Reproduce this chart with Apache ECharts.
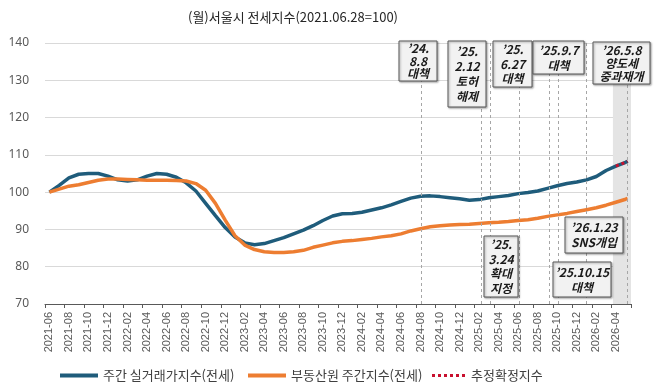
<!DOCTYPE html>
<html lang="ko">
<head>
  <meta charset="UTF-8">
  <script src="https://cdn.jsdelivr.net/npm/echarts@6/dist/echarts.min.js"></script>
  <title>서울시 전세지수</title>
  <style>
    body { margin: 0; background: #fff; }
  </style>
</head>
<body>
  <div id="main" style="width: 672px;height:389px;"></div>
  <script type="text/javascript">
    // x 값: 2021-06 눈금에서부터의 개월 위치
    var monthPos = [0,1,2,3,4,5,6,7,8,9,10,11,12,13,14,15,16,17,18,19,20,21,22,23,24,25,26,27,28,29,
      30,31,32,33,34,35,36,37,38,39,40,41,42,43,44,45,46,47,48,49,50,51,52,53,54,55,56,57,58,59,59.2];

    // 주간 실거래가지수(전세)
    var realIdx = [100,101.8,103.8,104.8,105.0,105.0,104.3,103.3,103.0,103.3,104.3,105.0,104.8,104.0,102.5,
      100.3,97.0,93.7,90.5,88.0,86.4,85.9,86.2,87.0,87.8,88.8,89.8,91.0,92.4,93.6,
      94.2,94.3,94.6,95.2,95.8,96.6,97.5,98.4,98.9,99.0,98.8,98.5,98.2,97.8,98.0,
      98.5,98.8,99.1,99.6,99.9,100.3,101.0,101.7,102.3,102.7,103.3,104.2,105.8,107.0,108.0,108.3];

    // 부동산원 주간지수(전세)
    var rebIdx = [100,100.8,101.6,102.0,102.6,103.2,103.5,103.5,103.4,103.3,103.2,103.2,103.2,103.1,103.0,
      102.3,100.5,97.0,92.5,88.3,85.8,84.6,84.0,83.8,83.8,84.0,84.4,85.2,85.8,86.4,
      86.8,87.0,87.3,87.6,88.0,88.3,88.8,89.6,90.2,90.7,91.0,91.2,91.3,91.4,91.6,
      91.8,91.9,92.1,92.4,92.6,93.0,93.5,93.9,94.3,94.8,95.3,95.8,96.5,97.3,98.1,98.3];

    // 추정확정지수 구간 (실거래가지수 끝부분)
    var estStart = 58;

    var tickLabels = ['2021-06','2021-08','2021-10','2021-12','2022-02','2022-04','2022-06','2022-08',
      '2022-10','2022-12','2023-02','2023-04','2023-06','2023-08','2023-10','2023-12','2024-02','2024-04',
      '2024-06','2024-08','2024-10','2024-12','2025-02','2025-04','2025-06','2025-08','2025-10','2025-12',
      '2026-02','2026-04'];

    // 정책 이벤트 (세로 점선 위치)
    var eventNames = ["'24.8.8", "'25.2.12", "'25.3.24", "'25.6.27", "'25.9.7", "'25.10.15", "'26.1.23", "'26.5.8"];
    var eventPos = [38.11, 44.18, 45.10, 48.10, 51.14, 52.13, 54.99, 59.15];
    var shadeRange = [57.7, 59.55];

    var seriesNames = ['주간 실거래가지수(전세)', '부동산원 주간지수(전세)', '추정확정지수'];

    var myChart = echarts.init(document.getElementById('main'));

    function pairs(xs, ys) {
      return ys.map(function (y, i) { return [xs[i], y]; });
    }

    var estData = pairs(monthPos, realIdx).filter(function (p) { return p[0] >= estStart; });

    var tickVals = [];
    var labelVals = [];
    for (var k = 0; k < tickLabels.length; k++) {
      labelVals.push(k * 2);
      tickVals.push(k * 2 - 0.45);
    }
    tickVals.push(59.55);

    var boxStyle = { fill: '#F2F2F2', stroke: '#595959', lineWidth: 1, shadowBlur: 2, shadowColor: 'rgba(0,0,0,0.35)', shadowOffsetX: 1, shadowOffsetY: 1 };
    var boxFont = 'italic bold 12px "Noto Sans CJK KR", sans-serif';

    // 주석 박스 [x, y, w, h, text]
    var boxes = [
      [399, 41, 38, 40, "’24.\n8.8\n대책"],
      [448, 41, 38, 66, "’25.\n2.12\n토허\n해제"],
      [493, 41, 39, 46, "’25.\n6.27\n대책"],
      [533, 41, 51, 33, "’25.9.7\n대책"],
      [593, 42, 57, 42, "’26.5.8\n양도세\n중과재개"],
      [484, 236, 34, 61, "’25.\n3.24\n확대\n지정"],
      [565, 217, 58, 36, "’26.1.23\nSNS개입"],
      [553, 262, 58, 35, "’25.10.15\n대책"]
    ];

    var graphics = [];
    boxes.forEach(function (b) {
      var lines = b[4].split('\n').length;
      var lh = Math.min(15, (b[3] - 3) / lines);
      graphics.push({ type: 'rect', x: b[0], y: b[1], z: 100, zlevel: 1,
        shape: { x: 0, y: 0, width: b[2], height: b[3] }, style: boxStyle });
      graphics.push({ type: 'text', x: b[0] + b[2] / 2, y: b[1] + b[3] / 2, z: 101, zlevel: 1,
        style: { text: b[4], font: boxFont, fill: '#1a1a1a', align: 'center', verticalAlign: 'middle', lineHeight: lh } });
    });

    var legendFont = { fontSize: 13, color: '#404040', fontFamily: '"Noto Sans CJK KR", sans-serif' };
    var legendLeft = [55, 243, 427];
    var legendIcons = ['rect', 'rect',
      'path://M0,0h3v3h-3z M6,0h3v3h-3z M12,0h3v3h-3z M18,0h3v3h-3z M24,0h3v3h-3z M30,0h3v3h-3z'];

    var option = {
      animation: false,
      title: {
        text: '(월)서울시 전세지수(2021.06.28=100)',
        left: 183, top: 6,
        textStyle: { fontSize: 13, fontWeight: 'normal', color: '#262626', fontFamily: '"Noto Sans CJK KR", sans-serif' }
      },
      legend: seriesNames.map(function (n, i) {
        return {
          top: 364, left: legendLeft[i],
          itemWidth: i === 2 ? 35 : 38, itemHeight: i === 2 ? 3 : 4, itemGap: 0,
          textStyle: legendFont,
          data: [{ name: n, icon: legendIcons[i] }]
        };
      }),
      grid: { left: 45, right: 41, top: 43, bottom: 85 },
      xAxis: {
        type: 'value', min: -0.45, max: 59.55,
        axisLine: { lineStyle: { color: '#595959', width: 1 } },
        axisTick: { customValues: tickVals, length: 4, lineStyle: { color: '#595959' } },
        axisLabel: {
          customValues: labelVals, rotate: 90, margin: 8,
          fontSize: 11, color: '#595959', fontFamily: '"Liberation Sans", Arial, sans-serif',
          formatter: function (v) { return tickLabels[Math.round(v / 2)]; }
        },
        splitLine: { show: false }
      },
      yAxis: {
        type: 'value', min: 70, max: 140, interval: 10,
        axisLine: { show: false }, axisTick: { show: false },
        axisLabel: { margin: 16, fontSize: 12, color: '#595959', fontFamily: '"Noto Sans", sans-serif' },
        splitLine: { lineStyle: { color: '#D9D9D9' } }
      },
      series: [
        {
          name: 'shade', type: 'line', data: [], z: 1, silent: true,
          markArea: { silent: true, itemStyle: { color: '#E4E4E4' }, data: [[{ xAxis: shadeRange[0] }, { xAxis: shadeRange[1] }]] },
          markLine: {
            silent: true, symbol: 'none', label: { show: false },
            lineStyle: { type: [3, 3], color: '#A6A6A6', width: 1 },
            data: eventPos.map(function (p, i) { return { xAxis: p, name: eventNames[i] }; })
          }
        },
        {
          name: seriesNames[0], type: 'line', showSymbol: false, z: 3,
          data: pairs(monthPos, realIdx),
          lineStyle: { color: '#1F5C7B', width: 3.5 }, itemStyle: { color: '#1F5C7B' }
        },
        {
          name: seriesNames[1], type: 'line', showSymbol: false, z: 3,
          data: pairs(monthPos, rebIdx),
          lineStyle: { color: '#ED7D31', width: 3.5 }, itemStyle: { color: '#ED7D31' }
        },
        {
          name: seriesNames[2], type: 'line', showSymbol: false, z: 4,
          data: estData,
          lineStyle: { color: '#C8102E', width: 3, type: [3, 3] }, itemStyle: { color: '#C8102E' }
        }
      ],
      graphic: graphics
    };

    myChart.setOption(option);
  </script>
</body>
</html>
